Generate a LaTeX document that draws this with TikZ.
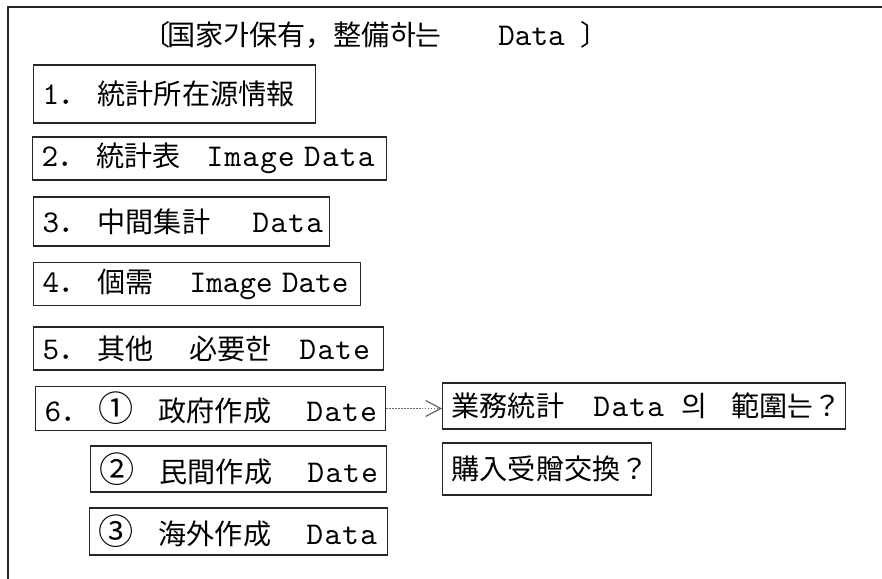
\documentclass[tikz,border=0pt]{standalone}
\usepackage{fontspec}
\setmainfont{Noto Sans CJK KR}
\newfontfamily\twfont[LetterSpace=4]{lmmono10-regular.otf}
\newfontfamily\twtight[LetterSpace=0]{lmmono10-regular.otf}
\usetikzlibrary{arrows.meta}
\newcommand{\slot}[2]{\makebox[#1cm][l]{#2}}
\newcommand{\dt}[1]{{\fontsize{18}{20}\twfont #1}}
\newcommand{\dtt}[1]{{\fontsize{18}{20}\twtight #1}}
\newcommand{\circnum}[1]{{\fontsize{20}{20}\selectfont #1}}
\tikzset{
  box/.style={draw=black!85, line width=0.8pt, anchor=west, align=left,
    inner xsep=0.18cm, font=\fontsize{16}{19}\selectfont},
  link/.style={black!60, densely dotted, line width=0.7pt,
    -{Straight Barb[length=0.3cm,width=0.32cm]}}
}
\begin{document}
\begin{tikzpicture}
\useasboundingbox (0,0) rectangle (17.64,11.58);
\draw[black!85, line width=0.8pt] (0.16,0) -- (0.16,11.44) -- (17.64,11.44);

\node[anchor=west, inner sep=0pt, font=\fontsize{16}{19}\selectfont] (title) at (2.84,10.88)
  {\slot{0.5}{〔}\slot{6.62}{国家가保有，整備하는}\slot{1.64}{\dtt{Data}}〕};

\node[box, text width=5.28cm, minimum height=1.16cm] (b1) at (0.66,9.70)
  {\slot{1.1}{\dt{1}．}統計所在源情報};
\node[box, text width=6.72cm, minimum height=0.86cm] (b2) at (0.64,8.41)
  {\slot{1.1}{\dt{2}．}\slot{2.2}{統計表}\dt{Image Data}};
\node[box, text width=5.56cm, minimum height=0.98cm] (b3) at (0.66,7.15)
  {\slot{1.1}{\dt{3}．}\slot{3.1}{中間集計}\dt{Data}};
\node[box, text width=6.18cm, minimum height=0.84cm] (b4) at (0.66,5.90)
  {\slot{1.1}{\dt{4}．}\slot{1.84}{個需}\dtt{Image Date}};
\node[box, text width=6.64cm, minimum height=0.86cm] (b5) at (0.66,4.61)
  {\slot{1.1}{\dt{5}．}\slot{1.84}{其他}\slot{2.2}{必要한}\dt{Date}};
\node[box, text width=6.64cm, minimum height=0.86cm] (b6) at (0.70,3.41)
  {\slot{1.08}{\dt{6}．}\slot{1.2}{\circnum{①}}\slot{2.96}{政府作成}\dt{Date}};
\node[box, text width=5.56cm, minimum height=0.92cm] (b7) at (1.80,2.20)
  {\slot{1.2}{\circnum{②}}\slot{2.96}{民間作成}\dt{Date}};
\node[box, text width=5.60cm, minimum height=0.94cm] (b8) at (1.78,0.95)
  {\slot{1.2}{\circnum{③}}\slot{2.96}{海外作成}\dt{Data}};

\node[box, text width=7.70cm, minimum height=0.92cm] (r1) at (8.84,3.46)
  {\slot{2.84}{業務統計}\slot{1.76}{\dt{Data}}\slot{1.0}{의}範圍는？};
\node[box, text width=3.82cm, minimum height=1.04cm] (r2) at (8.84,2.20)
  {購入受贈交換？};

\draw[link] (b6.east) -- (r1.west |- b6.east);
\end{tikzpicture}
\end{document}
